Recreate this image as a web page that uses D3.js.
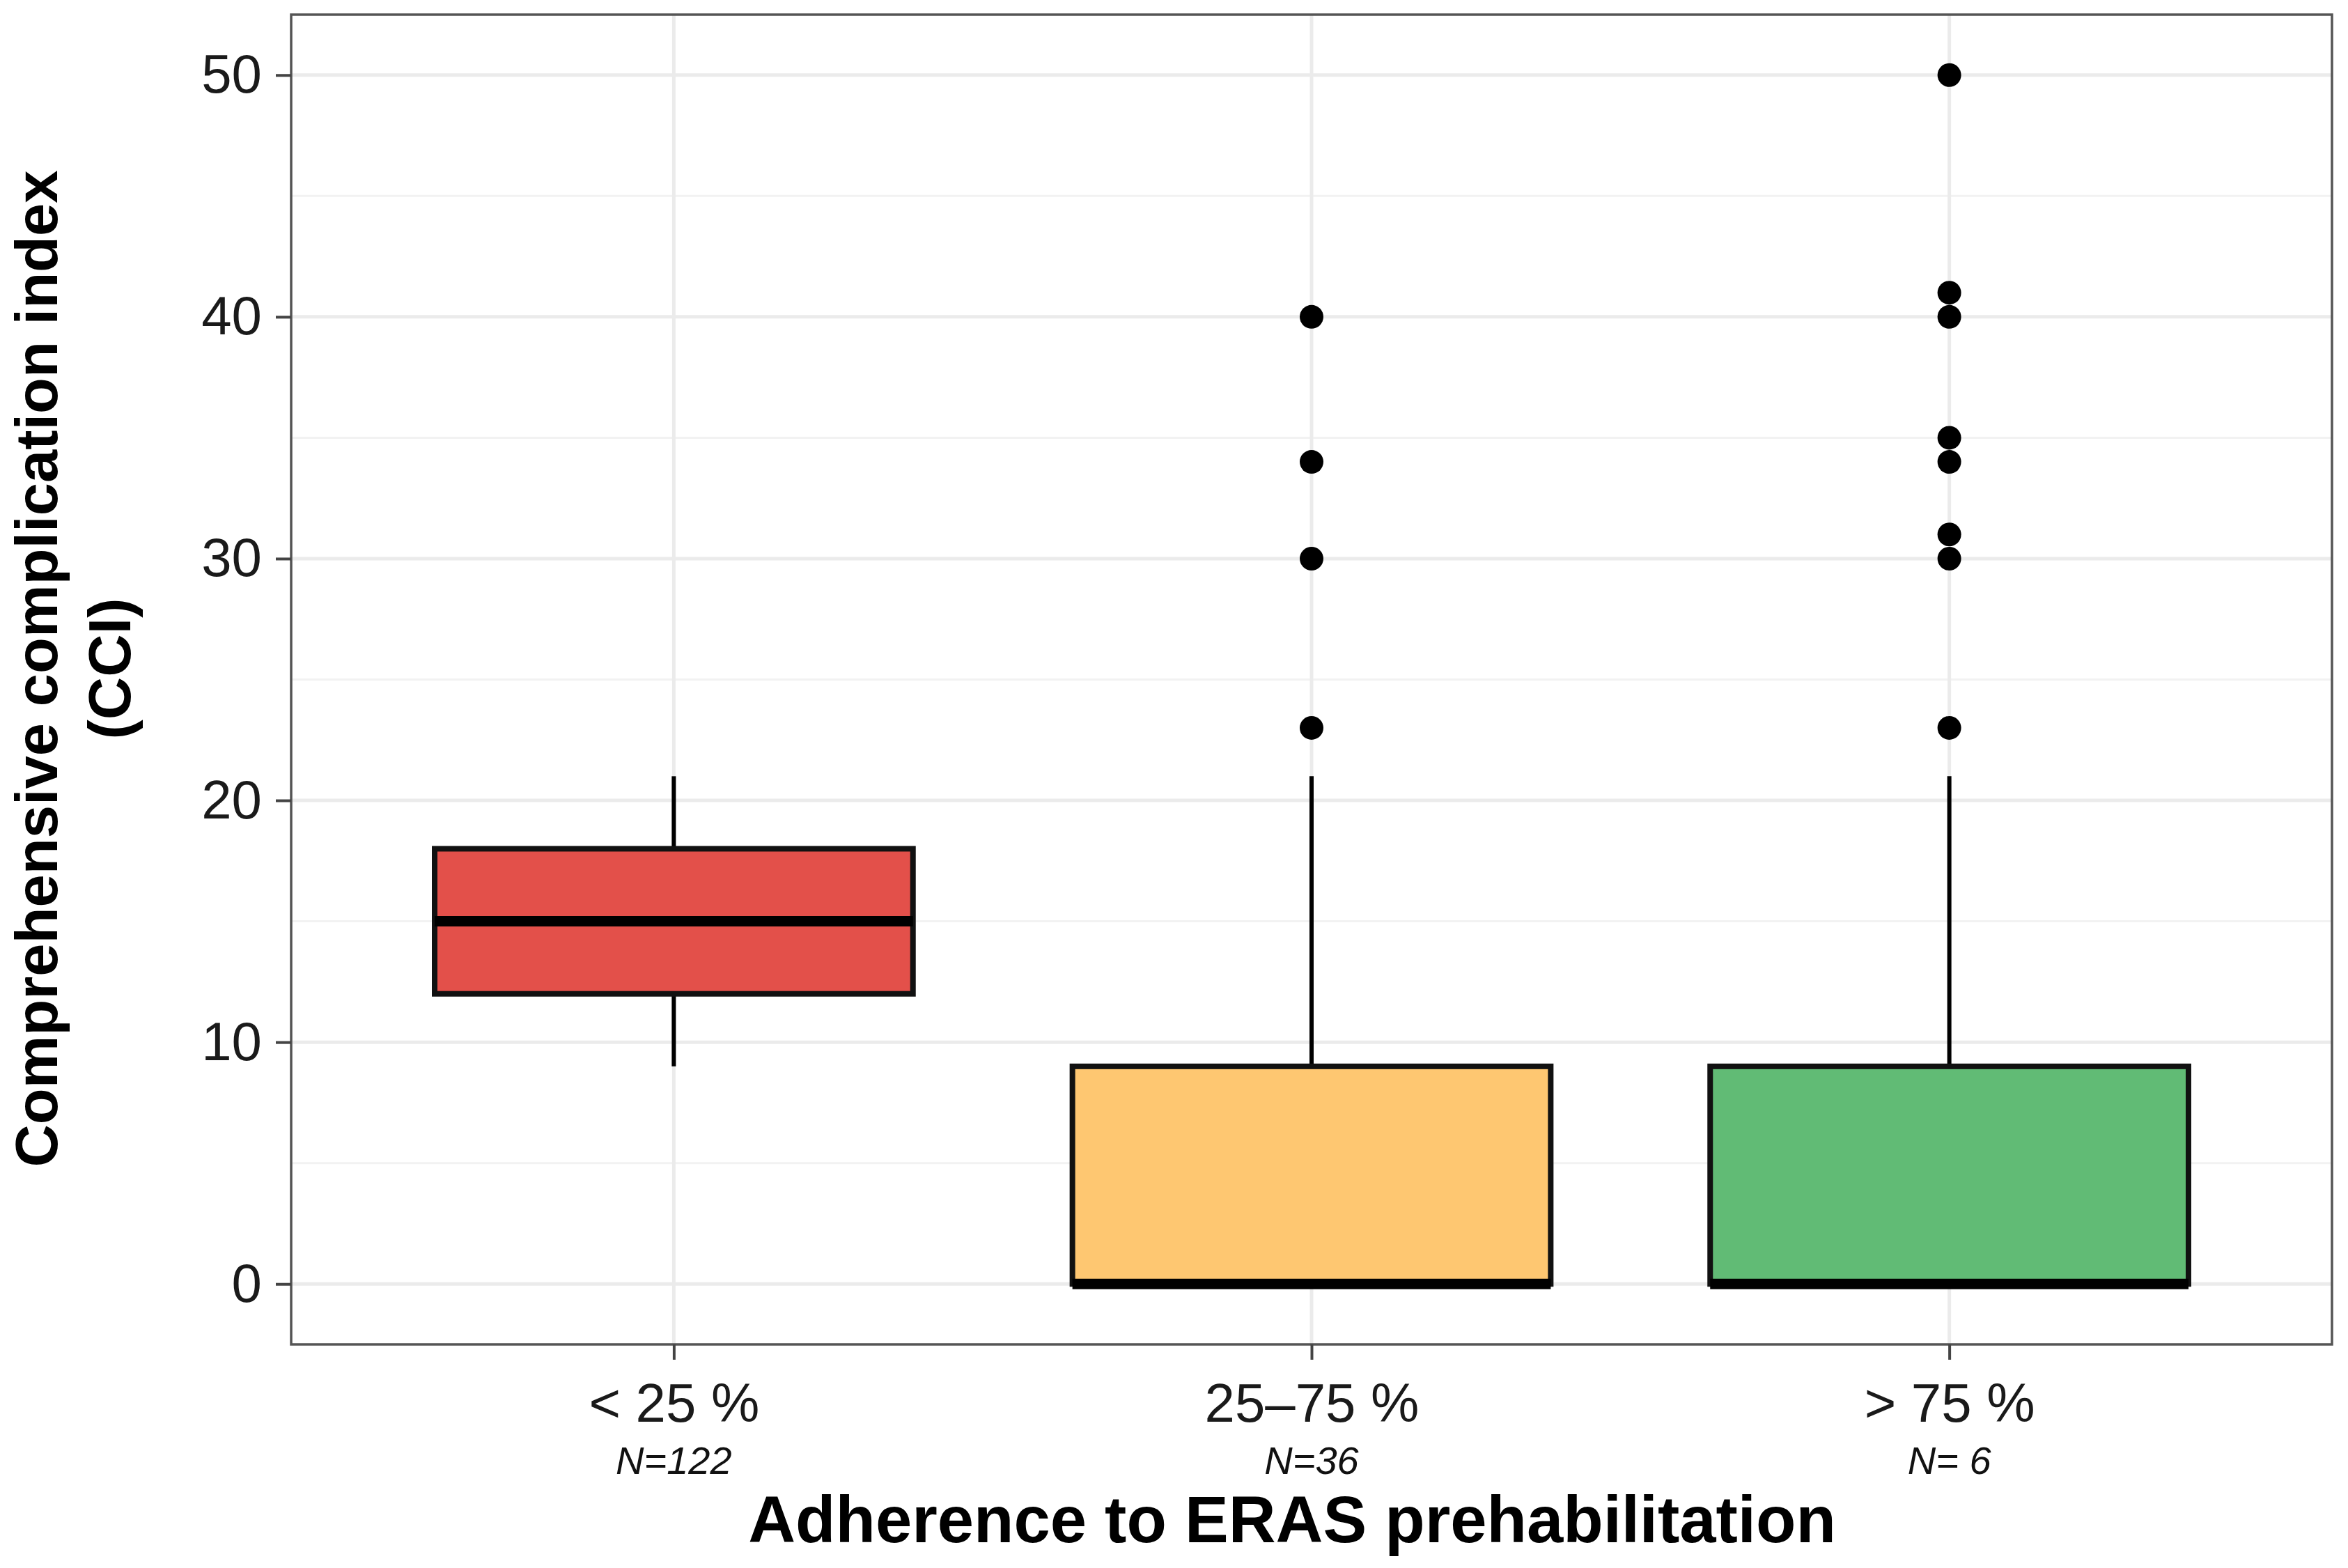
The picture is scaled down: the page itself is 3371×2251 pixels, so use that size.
<!DOCTYPE html>
<html>
<head>
<meta charset="utf-8">
<script src="https://cdn.jsdelivr.net/npm/d3@7"></script>
<style>
  html, body { margin: 0; padding: 0; background: #fff; }
  svg { display: block; font-family: "Liberation Sans", Arial, Helvetica, sans-serif; }
</style>
</head>
<body>
<div id="chart"></div>
<script>
// Box plot values
const categories = ['< 25 %', '25–75 %', '> 75 %'];
const sampleSizes = ['N=122', 'N=36', 'N= 6'];
const whiskerLow = [9, 0, 0];
const q1 = [12, 0, 0];
const medians = [15, 0, 0];
const q3 = [18, 9, 9];
const whiskerHigh = [21, 21, 21];
const outliers = [
    [],
    [40, 34, 30, 23],
    [50, 41, 40, 35, 34, 31, 30, 23]
];
const fills = ['#E3504A', '#FEC771', '#61BB75'];
const yMajorTicks = [0, 10, 20, 30, 40, 50];
const yMinorTicks = [5, 15, 25, 35, 45];

const width = 3371;
const height = 2251;
const panel = { left: 418, right: 3348, top: 21, bottom: 1930 };

const svg = d3.select('#chart')
    .append('svg')
    .attr('width', width)
    .attr('height', height)
    .attr('viewBox', [0, 0, width, height]);

// Scales: ggplot-style expansion (5% continuous, 0.6 discrete)
const x = d3.scalePoint()
    .domain(categories)
    .range([panel.left, panel.right])
    .padding(0.6);

const y = d3.scaleLinear()
    .domain([-2.5, 52.5])
    .range([panel.bottom, panel.top]);

const boxWidth = x.step() * 0.75;

const rows = categories.map((c, i) => ({
    cat: c,
    n: sampleSizes[i],
    lo: whiskerLow[i],
    q1: q1[i],
    med: medians[i],
    q3: q3[i],
    hi: whiskerHigh[i],
    out: outliers[i],
    fill: fills[i]
}));

// Grid lines
const grid = svg.append('g').attr('class', 'grid');
grid.selectAll('line.minor')
    .data(yMinorTicks)
    .join('line')
    .attr('class', 'minor')
    .attr('x1', panel.left).attr('x2', panel.right)
    .attr('y1', d => y(d)).attr('y2', d => y(d))
    .attr('stroke', '#F2F2F2')
    .attr('stroke-width', 3);

grid.selectAll('line.major-y')
    .data(yMajorTicks)
    .join('line')
    .attr('class', 'major-y')
    .attr('x1', panel.left).attr('x2', panel.right)
    .attr('y1', d => y(d)).attr('y2', d => y(d))
    .attr('stroke', '#EBEBEB')
    .attr('stroke-width', 5);

grid.selectAll('line.major-x')
    .data(categories)
    .join('line')
    .attr('class', 'major-x')
    .attr('x1', d => x(d)).attr('x2', d => x(d))
    .attr('y1', panel.top).attr('y2', panel.bottom)
    .attr('stroke', '#EBEBEB')
    .attr('stroke-width', 5);

// Boxes
const box = svg.append('g')
    .attr('class', 'boxes')
    .selectAll('g')
    .data(rows)
    .join('g');

box.append('line')
    .attr('x1', d => x(d.cat)).attr('x2', d => x(d.cat))
    .attr('y1', d => y(d.q3)).attr('y2', d => y(d.hi))
    .attr('stroke', '#000')
    .attr('stroke-width', 6);

box.append('line')
    .attr('x1', d => x(d.cat)).attr('x2', d => x(d.cat))
    .attr('y1', d => y(d.q1)).attr('y2', d => y(d.lo))
    .attr('stroke', '#000')
    .attr('stroke-width', 6);

box.append('rect')
    .attr('x', d => x(d.cat) - boxWidth / 2)
    .attr('width', boxWidth)
    .attr('y', d => y(d.q3))
    .attr('height', d => y(d.q1) - y(d.q3))
    .attr('fill', d => d.fill)
    .attr('stroke', '#111')
    .attr('stroke-width', 8);

box.append('line')
    .attr('x1', d => x(d.cat) - boxWidth / 2)
    .attr('x2', d => x(d.cat) + boxWidth / 2)
    .attr('y1', d => y(d.med)).attr('y2', d => y(d.med))
    .attr('stroke', '#000')
    .attr('stroke-width', 15);

// Outliers
box.selectAll('circle')
    .data(d => d.out.map(v => ({ cat: d.cat, v })))
    .join('circle')
    .attr('cx', d => x(d.cat))
    .attr('cy', d => y(d.v))
    .attr('r', 17)
    .attr('fill', '#000');

// Panel border
svg.append('rect')
    .attr('x', panel.left)
    .attr('y', panel.top)
    .attr('width', panel.right - panel.left)
    .attr('height', panel.bottom - panel.top)
    .attr('fill', 'none')
    .attr('stroke', '#555')
    .attr('stroke-width', 3.5);

// Axes
const yAxis = svg.append('g')
    .attr('transform', `translate(${panel.left},0)`)
    .call(d3.axisLeft(y).tickValues(yMajorTicks).tickSize(22).tickPadding(20));

const xAxis = svg.append('g')
    .attr('transform', `translate(0,${panel.bottom})`)
    .call(d3.axisBottom(x).tickSize(22).tickPadding(34));

[yAxis, xAxis].forEach(ax => {
    ax.select('.domain').remove();
    ax.selectAll('.tick line').attr('stroke', '#444').attr('stroke-width', 4);
    ax.selectAll('.tick text')
        .attr('fill', '#1a1a1a')
        .style('font-size', '78px')
        .style('font-family', '"Liberation Sans", Arial, sans-serif');
});

// Sample size labels under the category labels
svg.append('g')
    .selectAll('text')
    .data(rows)
    .join('text')
    .attr('x', d => x(d.cat))
    .attr('y', 2116)
    .attr('text-anchor', 'middle')
    .style('font-size', '56px')
    .style('font-style', 'italic')
    .attr('fill', '#111')
    .text(d => d.n);

// Axis titles
svg.append('text')
    .attr('x', 1855)
    .attr('y', 2214)
    .attr('text-anchor', 'middle')
    .style('font-size', '94px')
    .style('font-weight', 'bold')
    .text('Adherence to ERAS prehabilitation');

const yTitle = svg.append('text')
    .attr('transform', 'translate(82,960) rotate(-90)')
    .attr('text-anchor', 'middle')
    .style('font-size', '85px')
    .style('font-weight', 'bold');

yTitle.append('tspan')
    .attr('x', 0).attr('y', 0)
    .text('Comprehensive complication index');
yTitle.append('tspan')
    .attr('x', 0).attr('y', 105)
    .text('(CCI)');
</script>
</body>
</html>
